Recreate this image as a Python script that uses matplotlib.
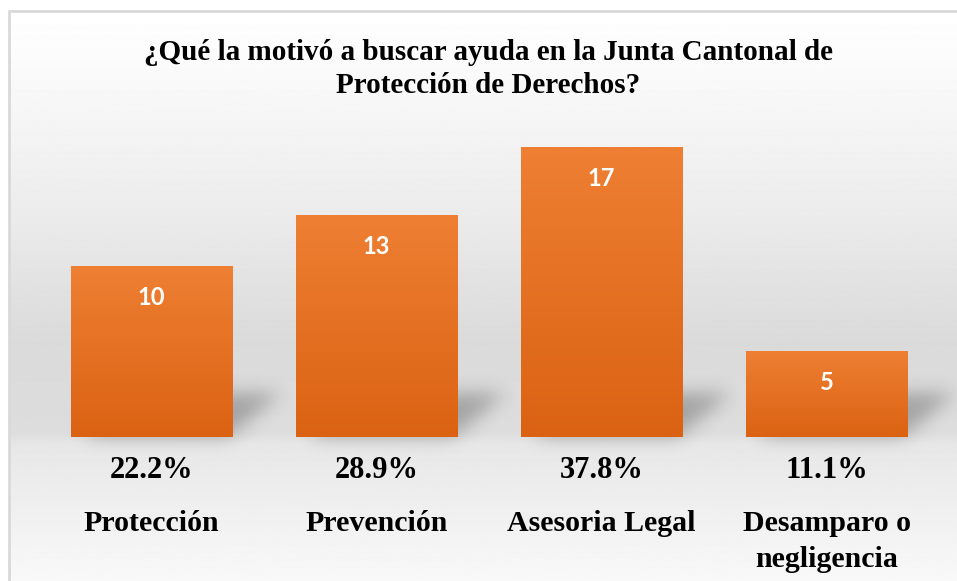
import numpy as np
import matplotlib
matplotlib.use("Agg")
import matplotlib.pyplot as plt
from matplotlib.path import Path
from matplotlib.patches import Rectangle
import matplotlib.colors as mcolors

# ---- data ----
categories = ["Protección", "Prevención", "Asesoria Legal", "Desamparo o\nnegligencia"]
counts = [10, 13, 17, 5]
percent_labels = ["22.2%", "28.9%", "37.8%", "11.1%"]
title = "¿Qué la motivó a buscar ayuda en la Junta Cantonal de\nProtección de Derechos?"

W_PX, H_PX, DPI = 957, 581, 100
fig = plt.figure(figsize=(W_PX / DPI, H_PX / DPI), dpi=DPI)
fig.patch.set_facecolor("white")

# chart area (inside outer frame)
ax_l, ax_t = 10, 12
ax = fig.add_axes([ax_l / W_PX, 0, (W_PX - ax_l) / W_PX, (H_PX - ax_t) / H_PX])
ax.set_axis_off()

xlim = (-0.629, 3.58)
ylim = (-8.47, 25.0)
ax.set_xlim(*xlim)
ax.set_ylim(*ylim)

# ---- background gradient ----
nh = 600
t = np.linspace(0, 1, nh)  # 0 = top, 1 = bottom
stops_t = [0.0, 0.08, 0.35, 0.58, 0.74, 0.76, 1.0]
stops_v = [1.0, 0.985, 0.925, 0.855, 0.865, 0.905, 0.975]
vals = np.interp(t, stops_t, stops_v)
bg = np.repeat(vals[:, None], 2, axis=1)
ax.imshow(bg, cmap="gray", vmin=0, vmax=1, aspect="auto",
          extent=(xlim[0], xlim[1], ylim[0], ylim[1]), origin="upper", zorder=0)

# ---- soft shadows ----
bar_w = 0.716
x = np.arange(len(categories))
gw, gh = W_PX - ax_l, H_PX - ax_t
gx = np.linspace(xlim[0], xlim[1], gw)
gy = np.linspace(ylim[0], ylim[1], gh)
GX, GY = np.meshgrid(gx, gy)
pts = np.column_stack([GX.ravel(), GY.ravel()])
mask = np.zeros(GX.size, dtype=float)
dx_sh, h_sh = 0.24, 2.6
for xi, v in zip(x, counts):
    xl, xr = xi - bar_w / 2, xi + bar_w / 2
    hh = min(h_sh, v)
    poly = Path([(xl + 0.05, 0), (xr - 0.02, 0), (xr - 0.02 + dx_sh, hh),
                 (xl + 0.05 + dx_sh, hh), (xl + 0.05, 0)])
    mask[poly.contains_points(pts)] = 1.0
mask = mask.reshape(gh, gw)
sigma = 9.0
kr = np.arange(-int(3 * sigma), int(3 * sigma) + 1)
k = np.exp(-kr ** 2 / (2 * sigma ** 2))
k /= k.sum()
mask = np.apply_along_axis(lambda m: np.convolve(m, k, mode="same"), 1, mask)
mask = np.apply_along_axis(lambda m: np.convolve(m, k, mode="same"), 0, mask)
shadow = np.zeros((gh, gw, 4))
shadow[..., 3] = mask * 0.26
ax.imshow(shadow, aspect="auto", extent=(xlim[0], xlim[1], ylim[0], ylim[1]),
          origin="lower", zorder=1, interpolation="bilinear")

# ---- bars with vertical gradient ----
top_c = np.array(mcolors.to_rgb("#EE7F33"))
bot_c = np.array(mcolors.to_rgb("#DB6213"))
grad = np.linspace(0, 1, 100)[:, None]
bar_img = bot_c[None, None, :] * (1 - grad[..., None]) + top_c[None, None, :] * grad[..., None]
bar_img = np.repeat(bar_img, 2, axis=1)
bars = ax.bar(x, counts, width=bar_w, color="none", zorder=2)
for b in bars:
    bx, by = b.get_x(), b.get_y()
    ax.imshow(bar_img, aspect="auto", origin="lower",
              extent=(bx, bx + b.get_width(), by, by + b.get_height()), zorder=2)

# value labels inside bars
for xi, v in zip(x, counts):
    ax.text(xi, v - 1.82, str(v), ha="center", va="center", color="white",
            fontsize=17, fontweight="bold", family="Lato", zorder=3)

# percentage labels and categories
serif = ["Liberation Serif", "DejaVu Serif"]
for xi, p, c in zip(x, percent_labels, categories):
    ax.text(xi, -1.95, p, ha="center", va="center", fontsize=22,
            fontweight="bold", family=serif, zorder=3)
    ax.text(xi, -4.3, c, ha="center", va="top", fontsize=21.5,
            fontweight="bold", family=serif, linespacing=1.42, zorder=3)

ax.set_xlim(*xlim)
ax.set_ylim(*ylim)

# title
fig.text(488 / W_PX, 1 - 69 / H_PX, title, ha="center", va="center",
         fontsize=21, fontweight="bold", family=serif, linespacing=1.32)

# outer frame
top_y = 1 - 11 / H_PX
fig.patches.append(Rectangle((9 / W_PX, -0.1), 2, top_y + 0.1, transform=fig.transFigure,
                             fill=False, edgecolor="#d9d9d9", linewidth=2.0, zorder=10))

fig.savefig("out.png", dpi=DPI, facecolor="white")
